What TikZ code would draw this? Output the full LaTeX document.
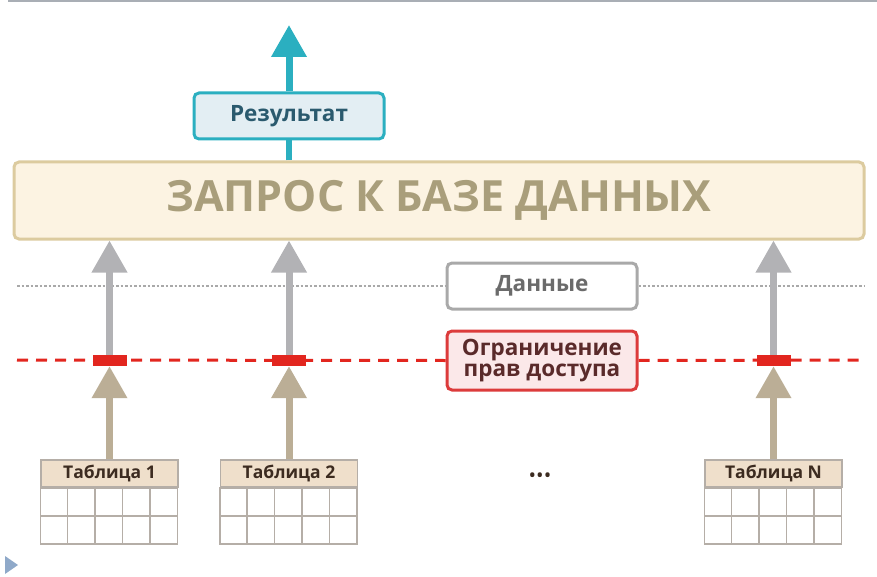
\documentclass[tikz,border=0pt]{standalone}
\usepackage{fontspec}
\setmainfont{Open Sans}
\usetikzlibrary{arrows.meta}
\definecolor{tealc}{HTML}{2BAFC0}
\definecolor{resfill}{HTML}{E3EEF3}
\definecolor{restext}{HTML}{2A5A6E}
\definecolor{mainfill}{HTML}{FCF3E2}
\definecolor{maindraw}{HTML}{DCCB9F}
\definecolor{maintext}{HTML}{A99E7B}
\definecolor{grayarr}{HTML}{B2B2B5}
\definecolor{datdraw}{HTML}{A9A9A9}
\definecolor{dattext}{HTML}{6B6B6B}
\definecolor{redc}{HTML}{E2261F}
\definecolor{ogrfill}{HTML}{FBE8E9}
\definecolor{ogrdraw}{HTML}{DC3B3B}
\definecolor{ogrtext}{HTML}{5A2A2A}
\definecolor{tanarr}{HTML}{BBAE96}
\definecolor{thfill}{HTML}{EFDFCB}
\definecolor{thdraw}{HTML}{B5AEA7}
\definecolor{thtext}{HTML}{3C2B20}
\definecolor{topline}{HTML}{A9AEB5}
\definecolor{tri}{HTML}{8FA9C9}
\tikzset{
  bigarrow/.style={line width=7pt,-{Triangle[width=34pt,length=32pt]}},
  lbox/.style={rounded corners=5pt,line width=3pt,minimum width=190pt,inner sep=0pt,font=\bfseries},
  thead/.style={draw=thdraw,fill=thfill,line width=1.5pt,minimum width=137pt,minimum height=27pt,inner sep=0pt,text=thtext,font=\bfseries\fontsize{17.5}{18}\selectfont},
  marker/.style={fill=redc,minimum width=34pt,minimum height=11pt,inner sep=0pt},
  gridline/.style={draw=thdraw,line width=1.5pt}
}
\begin{document}
\begin{tikzpicture}[x=1pt,y=-1pt]
\useasboundingbox (0,0) rectangle (877,577);
% top line
\draw[topline,line width=1.5pt] (8,1) -- (877,1);
% main box
\node[draw=maindraw,fill=mainfill,line width=3pt,rounded corners=5pt,minimum width=850pt,minimum height=77pt,inner sep=0pt,text=maintext,font=\bfseries\fontsize{43}{46}\selectfont] (main) at (439,200.5) {ЗАПРОС К БАЗЕ ДАННЫХ};
% result
\node[lbox,draw=tealc,fill=resfill,minimum height=46pt,text=restext,font=\bfseries\fontsize{22.5}{24}\selectfont] (res) at (289,116) {Результат};
\coordinate (restop) at (289,25);
\draw[tealc,line width=6pt] (main.north -| res.south) -- (res.south);
\draw[tealc,bigarrow] (res.north) -- (restop);
% data box and dotted line
\node[lbox,draw=datdraw,fill=white,minimum height=46pt,text=dattext,font=\bfseries\fontsize{22.5}{24}\selectfont] (dat) at (542,286) {Данные};
\coordinate (dl) at (17,286);
\coordinate (dr) at (865,286);
\draw[datdraw,line width=2.5pt,dash pattern=on 2.5pt off 2pt] (dl) -- (dat.west);
\draw[datdraw,line width=2.5pt,dash pattern=on 2.5pt off 2pt] (dat.east) -- (dr);
% access restriction box and dashed line
\node[lbox,draw=ogrdraw,fill=ogrfill,minimum height=59pt,text=ogrtext,align=center,font=\bfseries\fontsize{22.5}{21}\selectfont] (ogr) at (542,360.5) {Ограничение\\прав доступа};
\coordinate (rl) at (17,360);
\coordinate (rr) at (865,360);
\draw[redc,line width=3pt,dash pattern=on 11pt off 8pt] (rl) -- (ogr.west);
\draw[redc,line width=3pt,dash pattern=on 11pt off 8pt] (ogr.east) -- (rr);
% tables
\foreach \n/\x/\lab in {1/109.5/{Таблица 1},2/289/{Таблица 2},3/773.5/{Таблица N}}{
  \node[thead] (t\n) at (\x,473.5) {\lab};
  \draw[gridline] (t\n.south west) rectangle ++(137,56);
  \draw[gridline] ([yshift=-28pt]t\n.south west) -- ++(137,0);
  \foreach \c in {1,2,3,4}{
    \draw[gridline] ([xshift=\c*27.4pt]t\n.south west) -- ++(0,56);
  }
  \node[marker] (m\n) at (\x,360.5) {};
  \draw[grayarr,bigarrow] (m\n.north) -- (main.south -| m\n);
  \draw[tanarr,bigarrow] (t\n.north) -- (m\n.south);
}
\node[text=thtext,font=\fontsize{20}{20}\selectfont] (dots) at (540,478) {•••};
% small triangle bottom-left
\fill[tri] (5,556) -- (18,565) -- (5,574) -- cycle;
\end{tikzpicture}
\end{document}
